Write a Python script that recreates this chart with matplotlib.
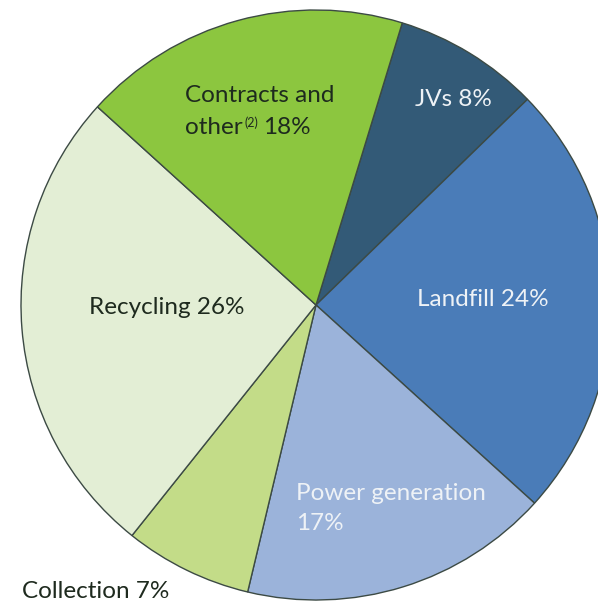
import matplotlib.pyplot as plt

# Revenue split by business line (percent)
segments = ['JVs', 'Landfill', 'Power generation', 'Collection', 'Recycling', 'Contracts and other']
shares = [8, 24, 17, 7, 26, 18]
colors = ['#335a77', '#4a7cb8', '#9bb3da', '#c3dc88', '#e3eed5', '#8cc63f']

fig = plt.figure(figsize=(5.98, 6.03), dpi=100)
ax = fig.add_axes([0, 0, 1, 1])
ax.set_aspect('equal')

# pie is drawn in pixel-like units; y axis is inverted so the wedges run
# counterclockwise in data space to appear clockwise on screen
ax.pie(shares, colors=colors, startangle=-73, counterclock=True,
       center=(316, 305), radius=295, frame=True,
       wedgeprops=dict(edgecolor='#3c4a44', linewidth=1.0))
ax.set_xlim(0, 598)
ax.set_ylim(603, 0)
ax.axis('off')

font = 'Lato'
dark = '#1e2a1e'
light = '#eef2f6'
fs = 17.5

ax.text(167, 307, 'Recycling 26%', fontsize=fs, family=font, color=dark,
        ha='center', va='center')
ax.text(483, 300, 'Landfill 24%', fontsize=fs, family=font, color=light,
        ha='center', va='center')
ax.text(453, 100, 'JVs 8%', fontsize=fs, family=font, color=light,
        ha='center', va='center')
ax.text(296, 493, 'Power generation', fontsize=fs, family=font, color=light,
        ha='left', va='center')
ax.text(296, 523, '17%', fontsize=fs, family=font, color=light,
        ha='left', va='center')
ax.text(22, 591, 'Collection 7%', fontsize=fs, family=font, color=dark,
        ha='left', va='center')

ax.text(185, 96, 'Contracts and', fontsize=fs, family=font, color=dark,
        ha='left', va='center')
other = ax.text(185, 127, 'other', fontsize=fs, family=font, color=dark,
                ha='left', va='center')
note = ax.annotate('(2)', xy=(1, 1), xycoords=other, xytext=(1, 0),
                   textcoords='offset points', fontsize=9, family=font,
                   color=dark, ha='left', va='top')
ax.annotate('18%', xy=(1, 0), xycoords=(note, other), xytext=(4, 0),
            textcoords='offset points', fontsize=fs, family=font,
            color=dark, ha='left', va='bottom')

fig.savefig('out.png', dpi=100)
